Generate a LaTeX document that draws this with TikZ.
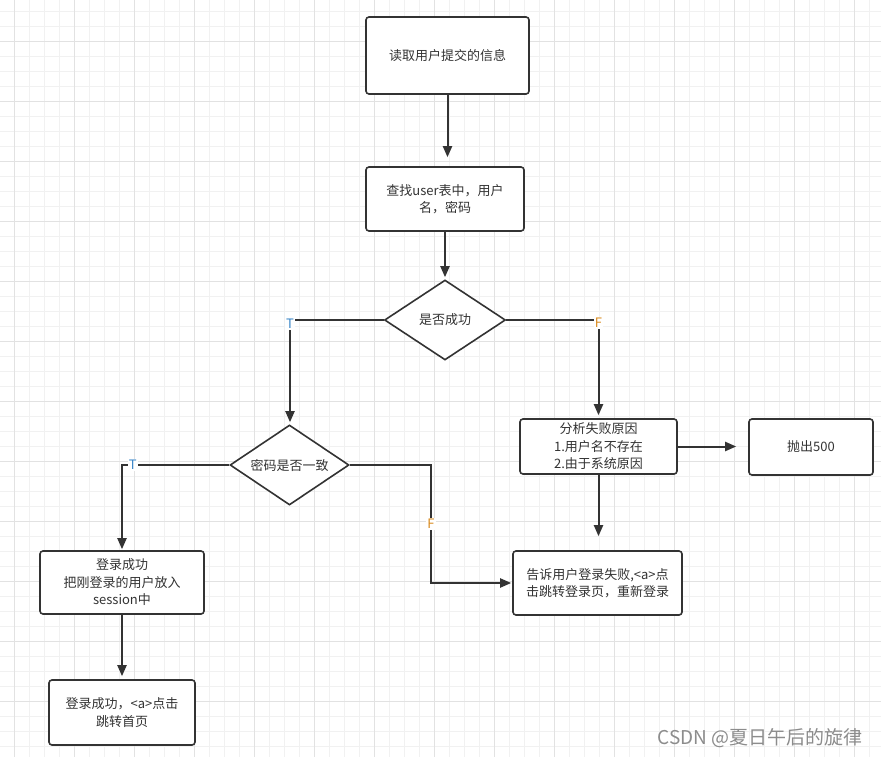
\documentclass[tikz,border=0pt]{standalone}
\usepackage{fontspec}
\newfontfamily\cjk{Noto Sans CJK SC}
\usepackage{tikz}
\usetikzlibrary{shapes.geometric, arrows.meta, positioning, calc}

\definecolor{inkgray}{HTML}{333333}
\definecolor{gridlight}{HTML}{F1F1F1}
\definecolor{griddark}{HTML}{E2E2E2}
\definecolor{tblue}{HTML}{3A86C8}
\definecolor{forange}{HTML}{D98A1E}

\tikzstyle{procbox} = [
  rectangle, draw=inkgray, fill=white, line width=1.6pt,
  rounded corners=3pt, align=center, inner sep=0pt,
  text=inkgray, font=\cjk\fontsize{13}{17.5}\selectfont
]
\tikzstyle{decision} = [
  diamond, draw=inkgray, fill=white, line width=1.6pt,
  aspect=1.5, inner sep=0pt, align=center,
  text=inkgray, font=\cjk\fontsize{13}{17}\selectfont
]
\tikzstyle{arrow} = [-{Triangle[length=11pt, width=9pt]}, draw=inkgray, line width=2pt]
\tikzstyle{tflabel} = [fill=white, inner sep=1pt, font=\cjk\fontsize{13}{15}\selectfont]
\tikzstyle{gridminor} = [draw=gridlight, line width=0.9pt]
\tikzstyle{gridmajor} = [draw=griddark, line width=1.1pt]

\begin{document}
\begin{tikzpicture}[x=1pt, y=-1pt]

  % Canvas and grid
  \useasboundingbox (0,0) rectangle (881,757);
  \fill[white] (0,0) rectangle (881,757);
  \foreach \i in {-1,...,58} {
    \draw[gridminor] ({14.7+15*\i},0) -- ({14.7+15*\i},757);
  }
  \foreach \j in {-1,...,50} {
    \draw[gridminor] (0,{11.3+15*\j}) -- (881,{11.3+15*\j});
  }
  \foreach \i in {0,...,14} {
    \draw[gridmajor] ({14.7+60*\i},0) -- ({14.7+60*\i},757);
  }
  \foreach \j in {0,...,12} {
    \draw[gridmajor] (0,{41.3+60*\j}) -- (881,{41.3+60*\j});
  }

  % Main flow
  \node[procbox, minimum width=163pt, minimum height=77pt] (read) at (447.5, 55.5) {读取用户提交的信息};
  \node[procbox, minimum width=158pt, minimum height=64pt] (lookup) at (445, 199) {查找user表中，用户\\名，密码};
  \node[decision, minimum width=121pt, minimum height=80pt] (found) at (445, 320) {是否成功};

  % Failure branch
  \node[procbox, minimum width=157pt, minimum height=55pt] (reason) at (598.5, 446.5) {分析失败原因\\1.用户名不存在\\2.由于系统原因};
  \node[procbox, minimum width=124pt, minimum height=56pt] (throw) at (811, 447) {抛出500};
  \node[procbox, minimum width=169pt, minimum height=64pt] (fail) at (597.5, 583) {告诉用户登录失败,<a>点\\击跳转登录页，重新登录};

  % Password check branch
  \node[decision, minimum width=119pt, minimum height=80pt] (same) at (289.5, 465) {密码是否一致};
  \node[procbox, minimum width=164pt, minimum height=63pt] (login) at (122, 582.5) {登录成功\\把刚登录的用户放入\\session中};
  \node[procbox, minimum width=146pt, minimum height=65pt] (home) at (122, 712.5) {登录成功，<a>点击\\跳转首页};

  \coordinate (tbend) at (290, 320);
  \coordinate (fbend) at (431, 465);

  % Arrows
  \draw[arrow, shorten >=9pt] (read.south) -- (read.south |- lookup.north);
  \draw[arrow, shorten >=2pt] (lookup.south) -- (lookup.south |- found.north);
  \draw[arrow, shorten >=2pt] (found.west) -- (tbend) -- node[tflabel, text=tblue, pos=0.04] (lblt1) {T} (tbend |- same.north);
  \draw[arrow, shorten >=3pt] (found.east) -| node[tflabel, text=forange, pos=0.515] (lblf1) {F} (reason.north);
  \draw[arrow, shorten >=12pt] (reason.east) -- (reason.east -| throw.west);
  \draw[arrow, shorten >=14pt] (reason.south) -- (reason.south |- fail.north);
  \draw[arrow, shorten >=1pt] (same.west) -| node[tflabel, text=tblue, pos=0.45] (lblt2) {T} (login.north);
  \draw[arrow, shorten >=1pt] (same.east) -- (fbend) |- node[tflabel, text=forange, pos=0.25] (lblf2) {F} (fail.west);
  \draw[arrow, shorten >=3pt] (login) -- (home);

  % Watermark
  \node[text=black!45, font=\cjk\fontsize{19}{21}\selectfont] (mark) at (760, 738) {CSDN @夏日午后的旋律};

\end{tikzpicture}
\end{document}
